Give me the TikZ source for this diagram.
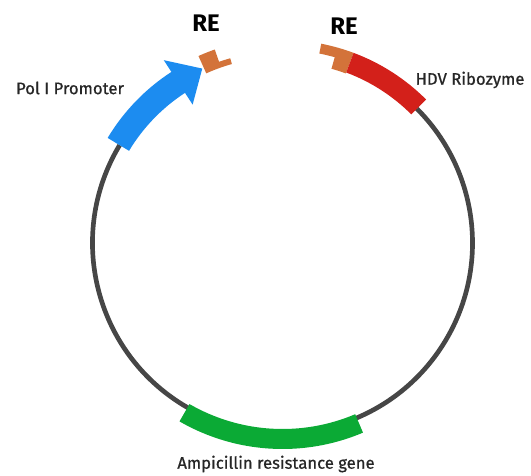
\documentclass[tikz,border=0pt]{standalone}
\usepackage{fontspec}
\setmainfont{Fira Sans}
\newfontfamily\featfont{Fira Sans}[FakeBold=0.8]
\usepackage{tikz}

\definecolor{backbone}{HTML}{464646}
\definecolor{promoter}{HTML}{1C8CF0}
\definecolor{ribozyme}{HTML}{D3201A}
\definecolor{resist}{HTML}{0BAA35}
\definecolor{resite}{HTML}{D3733A}

\begin{document}
\begin{tikzpicture}[x=0.75pt, y=0.75pt,
    feature/.style={font=\featfont\fontsize{12.5}{14}\selectfont, text=black!85},
    site/.style={font=\fontsize{18}{20}\selectfont\bfseries}]
    \useasboundingbox (0,0) rectangle (531,475);

    \begin{scope}[shift={(282.5,232)}]
        \draw[backbone, line width=3.5pt] (149:190) arc (149:405:190);

        \fill[promoter] (149:179) arc (149:123:179) -- (123:165) -- (114.7:192)
            -- (123:218) -- (123:204) arc (123:149:204) -- cycle;

        \fill[resite] (114.2:186) arc (114.2:105.8:186) -- (105.8:192)
            arc (105.8:109.3:192) -- (109.3:205) arc (109.3:114.2:205) -- cycle;
        \fill[resite] (69.5:181) arc (69.5:74.3:181) -- (74.3:193)
            arc (74.3:79:193) -- (79:203) arc (79:69.5:203) -- cycle;

        \fill[ribozyme] (45:182) arc (45:69.5:182) -- (69.5:203) arc (69.5:45:203) -- cycle;

        \fill[resist] (240:186) arc (240:293:186) -- (293:206) arc (293:240:206) -- cycle;
    \end{scope}

    \node[site] (re1) at (206,452) {RE};
    \node[site] (re2) at (344,449) {RE};
    \node[feature] (pol) at (70,387) {Pol I Promoter};
    \node[feature] (hdv) at (470,395) {HDV Ribozyme};
    \node[feature] (amp) at (276,11) {Ampicillin resistance gene};
\end{tikzpicture}
\end{document}
